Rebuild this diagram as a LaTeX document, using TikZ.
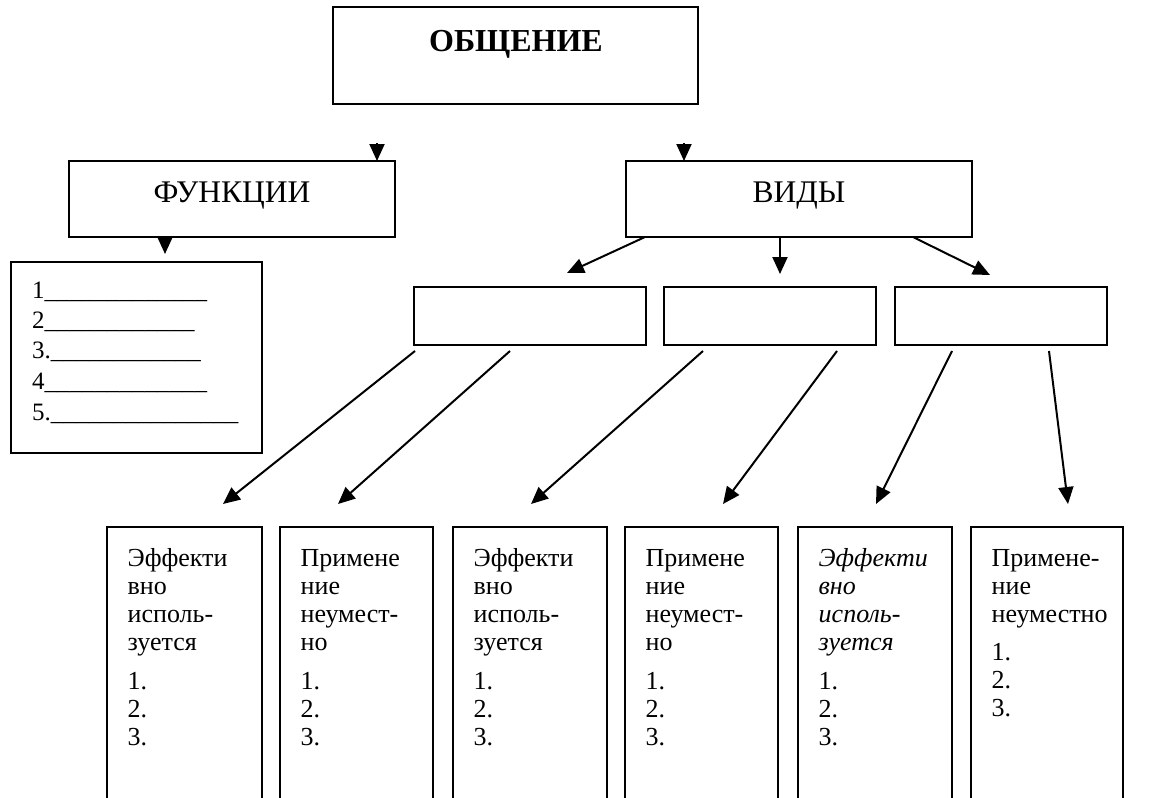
\documentclass[tikz,border=0pt]{standalone}
\usepackage{fontspec}
\setmainfont{Liberation Serif}
\usetikzlibrary{arrows.meta}
\begin{document}
\begin{tikzpicture}[x=1pt,y=-1pt,
  box/.style={draw,line width=2pt,inner sep=0pt,outer sep=0pt,anchor=north west},
  conn/.style={line width=2pt,-{Triangle[length=17pt,width=15pt]}},
  lbl/.style={inner sep=0pt,anchor=base west,font=\fontsize{26}{28}\selectfont},
  lst/.style={inner sep=0pt,anchor=base west,font=\fontsize{25}{30}\selectfont},
  head/.style={inner sep=0pt,anchor=base,font=\fontsize{31.5}{36}\selectfont},
]
\useasboundingbox (0,0) rectangle (1152,798);
\clip (0,0) rectangle (1152,798);
% top boxes
\node[box,minimum width=365pt,minimum height=97pt] (obsh) at (333,7) {};
\node[head,font=\bfseries\fontsize{32}{36}\selectfont] (tobsh) at (516,51) {ОБЩЕНИЕ};
\node[box,minimum width=326pt,minimum height=76pt] (funk) at (69,161) {};
\node[head] (tfunk) at (232,202) {ФУНКЦИИ};
\node[box,minimum width=346pt,minimum height=76pt] (vidy) at (626,161) {};
\node[head] (tvidy) at (799,202) {ВИДЫ};
% list box
\node[box,minimum width=251pt,minimum height=191pt] (list) at (11,262) {};
\node[lst] (l1) at (32,298) {1\_\_\_\_\_\_\_\_\_\_\_\_\_};
\node[lst] (l2) at (32,328) {2\_\_\_\_\_\_\_\_\_\_\_\_};
\node[lst] (l3) at (32,358) {3.\_\_\_\_\_\_\_\_\_\_\_\_};
\node[lst] (l4) at (32,389) {4\_\_\_\_\_\_\_\_\_\_\_\_\_};
\node[lst] (l5) at (32,420) {5.\_\_\_\_\_\_\_\_\_\_\_\_\_\_\_};
% middle boxes
\node[box,minimum width=232pt,minimum height=58pt] (mA) at (414,287) {};
\node[box,minimum width=212pt,minimum height=58pt] (mB) at (664,287) {};
\node[box,minimum width=212pt,minimum height=58pt] (mC) at (895,287) {};
% bottom boxes (run off the page)
\node[box,minimum width=155pt,minimum height=300pt] (b1) at (107,527) {};
\node[box,minimum width=153pt,minimum height=300pt] (b2) at (280,527) {};
\node[box,minimum width=154pt,minimum height=300pt] (b3) at (453,527) {};
\node[box,minimum width=153pt,minimum height=300pt] (b4) at (625,527) {};
\node[box,minimum width=154pt,minimum height=300pt] (b5) at (798,527) {};
\node[box,minimum width=152pt,minimum height=300pt] (b6) at (971,527) {};
% bottom texts
\foreach \bx/\nm in {107/b1,453/b3} {
  \foreach \t [count=\j from 0] in {Эффекти,вно,исполь-,зуется}
    \node[lbl] (\nm t\j) at (\bx+20.5,566+28.33*\j) {\t};
}
\foreach \bx/\nm in {280/b2,625/b4} {
  \foreach \t [count=\j from 0] in {Примене,ние,неумест-,но}
    \node[lbl] (\nm t\j) at (\bx+20.5,566+28.33*\j) {\t};
}
\foreach \t [count=\j from 0] in {Эффекти,вно,исполь-,зуется}
  \node[lbl,font=\itshape\fontsize{26}{28}\selectfont] (b5t\j) at (818.5,566+28.33*\j) {\t};
\foreach \t [count=\j from 0] in {Примене-,ние,неуместно}
  \node[lbl] (b6t\j) at (991.5,566+28.33*\j) {\t};
\foreach \bx/\nm in {107/b1,280/b2,453/b3,625/b4,798/b5} {
  \foreach \t [count=\j from 0] in {1.,2.,3.}
    \node[lbl] (\nm n\j) at (\bx+20.5,689+28.33*\j) {\t};
}
\foreach \t [count=\j from 0] in {1.,2.,3.}
  \node[lbl] (b6n\j) at (991.5,660+28.33*\j) {\t};
% connector end points
\coordinate (s1) at (377,143);
\coordinate (s2) at (684,143);
\coordinate (e3) at (165,254);
\coordinate (sv1) at (645,237);
\coordinate (sv2) at (780,237);
\coordinate (sv3) at (913,237);
\coordinate (eA) at (567,273);
\coordinate (eB) at (780,274);
\coordinate (eC) at (990,275);
\coordinate (sA1) at (415,351);
\coordinate (sA2) at (510,351);
\coordinate (sB1) at (703,351);
\coordinate (sB2) at (837,351);
\coordinate (sC1) at (952,351);
\coordinate (sC2) at (1049,351);
\coordinate (e1) at (223,504);
\coordinate (e2) at (338,504);
\coordinate (e3b) at (531,504);
\coordinate (e4) at (723,504);
\coordinate (e5) at (876,504);
\coordinate (e6) at (1068,504);
% connectors
\draw[conn] (s1) -- (s1 |- funk.north);
\draw[conn] (s2) -- (s2 |- vidy.north);
\draw[conn] (e3 |- funk.south) -- (e3);
\draw[conn] (sv1) -- (eA);
\draw[conn] (sv2) -- (eB);
\draw[conn] (sv3) -- (eC);
\draw[conn] (sA1) -- (e1);
\draw[conn] (sA2) -- (e2);
\draw[conn] (sB1) -- (e3b);
\draw[conn] (sB2) -- (e4);
\draw[conn] (sC1) -- (e5);
\draw[conn] (sC2) -- (e6);
\end{tikzpicture}
\end{document}
